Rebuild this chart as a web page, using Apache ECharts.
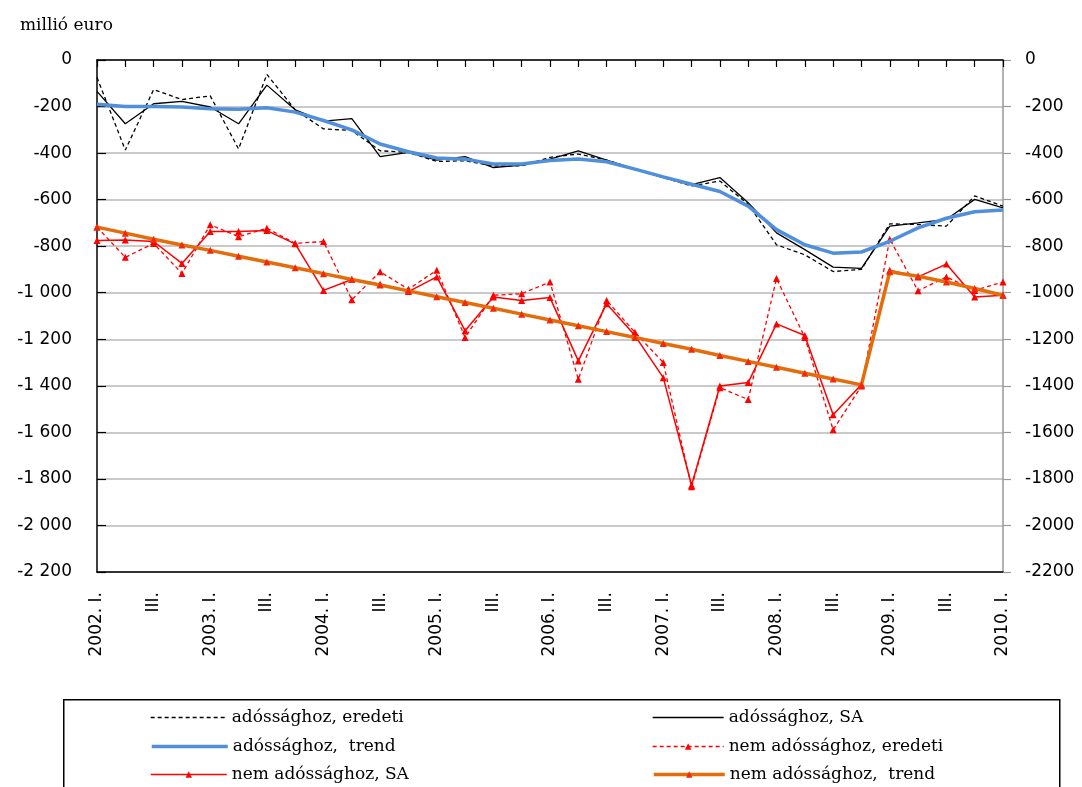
<!DOCTYPE html>
<html>
<head>
<meta charset="utf-8">
<script src="https://cdn.jsdelivr.net/npm/echarts@6/dist/echarts.min.js"></script>
<style>
html,body{margin:0;padding:0;background:#fff;}
#chart{width:1082px;height:787px;}
</style>
</head>
<body>
<div id="chart"></div>
<script>
const categories = [
  "2002. I.","II.","III.","IV.",
  "2003. I.","II.","III.","IV.",
  "2004. I.","II.","III.","IV.",
  "2005. I.","II.","III.","IV.",
  "2006. I.","II.","III.","IV.",
  "2007. I.","II.","III.","IV.",
  "2008. I.","II.","III.","IV.",
  "2009. I.","II.","III.","IV.",
  "2010. I."
];

const adossaghozEredeti = [-75,-387,-127,-170,-154,-382,-62,-214,-296,-303,-390,-397,
  -436,-433,-455,-455,-418,-404,-430,-469,-505,-541,-520,
  -620,-794,-837,-909,-900,-704,-707,-714,-584,-628];

const adossaghozSA = [-135,-274,-188,-178,-202,-274,-108,-214,-263,-252,-415,-397,
  -430,-415,-462,-452,-426,-390,-430,-469,-505,-535,-505,
  -613,-743,-815,-890,-895,-714,-700,-685,-599,-635];

const adossaghozTrend = [-190,-200,-200,-202,-209,-212,-205,-224,-260,-300,-361,-394,
  -421,-426,-447,-447,-432,-425,-437,-469,-502,-534,-565,
  -628,-729,-794,-830,-825,-779,-721,-680,-652,-645];

const nemEredeti = [-718,-848,-788,-917,-708,-759,-723,-788,-780,-1030,-910,-985,
  -903,-1192,-1011,-1004,-954,-1372,-1033,-1170,-1300,-1834,-1408,
  -1459,-939,-1192,-1589,-1401,-770,-992,-932,-990,-954];

const nemSA = [-776,-773,-780,-874,-737,-737,-733,-790,-990,-943,-964,-995,
  -932,-1163,-1018,-1033,-1021,-1293,-1047,-1184,-1365,-1827,-1401,
  -1386,-1134,-1184,-1524,-1394,-903,-932,-877,-1018,-1011];

const nemTrend = [-718,-744,-770,-795,-818,-843,-868,-893,-918,-943,-967,-992,
  -1017,-1042,-1067,-1092,-1117,-1142,-1167,-1192,-1218,-1243,-1270,
  -1295,-1320,-1346,-1371,-1396,-910,-929,-954,-982,-1011];

const seriesNames = [
  "adóssághoz, eredeti",
  "adóssághoz, SA",
  "adóssághoz,  trend",
  "nem adóssághoz, eredeti",
  "nem adóssághoz, SA",
  "nem adóssághoz,  trend"
];

const chart = echarts.init(document.getElementById('chart'), null, {renderer:'canvas'});

const axisFont = {fontFamily:'DejaVu Sans', fontSize:17, color:'#000'};
const legendFont = {fontFamily:'DejaVu Serif', fontSize:17, color:'#000'};

function leftFmt(v){
  if (v === 0) return '0';
  const a = Math.abs(v);
  if (a >= 1000) {
    return '-' + Math.floor(a/1000) + ' ' + String(a % 1000).padStart(3,'0');
  }
  return String(v);
}

function mkLegend(name, left, top, w, withSymbol, lw){
  const item = {name:name, lineStyle:{width:lw}};
  if (!withSymbol) item.itemStyle = {opacity:0};
  return {
    data:[item],
    left:left, top:top, orient:'horizontal',
    itemWidth:w, itemHeight:withSymbol ? 8 : 14, itemGap:0, padding:0,
    textStyle:legendFont, selectedMode:false
  };
}

const option = {
  animation:false,
  backgroundColor:'#fff',
  title:{
    text:'millió euro', left:15, top:12,
    textStyle:{fontFamily:'DejaVu Serif', fontSize:17, fontWeight:'normal', color:'#000'}
  },
  grid:{left:97, right:79, top:60, bottom:215, containLabel:false},
  legend:[
    mkLegend(seriesNames[0], 150, 709, 76, false, 1.3),
    mkLegend(seriesNames[2], 150, 738, 76, false, 3.5),
    mkLegend(seriesNames[4], 150, 766, 76, true, 1.5),
    mkLegend(seriesNames[1], 652, 709, 71, false, 1.3),
    mkLegend(seriesNames[3], 652, 738, 71, true, 1.3),
    mkLegend(seriesNames[5], 652, 766, 71, true, 3.5)
  ],
  graphic:[{
    type:'rect', left:63, top:699, z:-1,
    shape:{width:996, height:120},
    style:{fill:'#fff', stroke:'#000', lineWidth:1.5}
  }],
  xAxis:[
    {
      type:'category', position:'bottom', boundaryGap:false, data:categories,
      axisLine:{onZero:false, lineStyle:{color:'#000', width:1.5}},
      axisTick:{show:false},
      axisLabel:{rotate:90, interval:1, margin:20, ...axisFont},
      splitLine:{show:false}
    },
    {
      type:'category', position:'top', boundaryGap:false, data:categories,
      axisLine:{onZero:false, lineStyle:{color:'#000', width:1.5}},
      axisTick:{show:true, inside:true, length:7, interval:0, lineStyle:{color:'#000', width:1.2}},
      axisLabel:{show:false},
      splitLine:{show:false}
    }
  ],
  yAxis:[
    {
      type:'value', position:'left', min:-2200, max:0, interval:200,
      axisLine:{show:true, lineStyle:{color:'#000', width:1.5}},
      axisTick:{show:true, inside:true, length:9, lineStyle:{color:'#000', width:1.2}},
      axisLabel:{margin:25, formatter:leftFmt, ...axisFont},
      splitLine:{show:true, lineStyle:{color:'#b8b8b8', width:1.5}}
    },
    {
      type:'value', position:'right', min:-2200, max:0, interval:200,
      axisLine:{show:true, lineStyle:{color:'#999', width:1.5}},
      axisTick:{show:true, inside:false, length:8, lineStyle:{color:'#999', width:1.2}},
      axisLabel:{margin:22, formatter:function(v){return String(v);}, ...axisFont},
      splitLine:{show:false}
    }
  ],
  series:[
    {
      name:seriesNames[0], type:'line', data:adossaghozEredeti, symbol:'none',
      lineStyle:{color:'#000', width:1.3, type:[4,3]}, itemStyle:{color:'#000'}, z:3
    },
    {
      name:seriesNames[1], type:'line', data:adossaghozSA, symbol:'none',
      lineStyle:{color:'#000', width:1.3}, itemStyle:{color:'#000'}, z:3
    },
    {
      name:seriesNames[2], type:'line', data:adossaghozTrend, symbol:'none',
      lineStyle:{color:'#4f8fdc', width:3.5}, itemStyle:{color:'#4f8fdc'}, z:4
    },
    {
      name:seriesNames[3], type:'line', data:nemEredeti, symbol:'triangle', symbolSize:7,
      lineStyle:{color:'#ff0000', width:1.3, type:[4,3]}, itemStyle:{color:'#ff0000'}, z:3
    },
    {
      name:seriesNames[4], type:'line', data:nemSA, symbol:'triangle', symbolSize:7,
      lineStyle:{color:'#ff0000', width:1.5}, itemStyle:{color:'#ff0000'}, z:3
    },
    {
      name:seriesNames[5], type:'line', data:nemTrend, symbol:'triangle', symbolSize:7,
      lineStyle:{color:'#e46c0a', width:3.5}, itemStyle:{color:'#f02a0a'}, z:4
    }
  ]
};

chart.setOption(option);
</script>
</body>
</html>
